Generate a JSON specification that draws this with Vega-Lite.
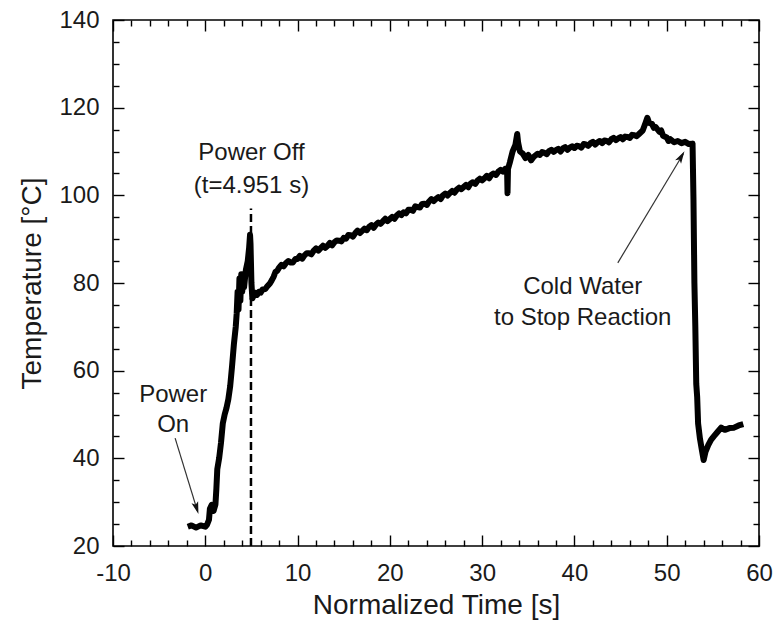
{
  "$schema": "https://vega.github.io/schema/vega-lite/v6.json",
  "width": 646,
  "height": 526,
  "autosize": "none",
  "padding": {"left": 113, "top": 20, "right": 15, "bottom": 78},
  "background": "white",
  "config": {
    "view": {"stroke": "black", "strokeWidth": 1.6},
    "font": "Liberation Sans",
    "axis": {
      "grid": false,
      "domain": false,
      "tickColor": "black",
      "tickWidth": 1.4,
      "labelFont": "Liberation Sans",
      "labelFontSize": 24,
      "labelColor": "#1a1a1a",
      "titleFont": "Liberation Sans",
      "titleFontSize": 28,
      "titleFontWeight": "normal",
      "titleColor": "#1a1a1a"
    }
  },
  "datasets": {
    "curve": [
      {"t": -1.9, "T": 24.4}, {"t": -1.5, "T": 24.7}, {"t": -1.0, "T": 24.2}, {"t": -0.5, "T": 24.7},
      {"t": 0.0, "T": 24.4}, {"t": 0.2, "T": 24.9}, {"t": 0.4, "T": 26}, {"t": 0.5, "T": 28.5},
      {"t": 0.7, "T": 29.4}, {"t": 0.9, "T": 28.0}, {"t": 1.1, "T": 29.5}, {"t": 1.2, "T": 33},
      {"t": 1.3, "T": 37.5}, {"t": 1.5, "T": 40}, {"t": 1.7, "T": 43.5}, {"t": 1.9, "T": 48},
      {"t": 2.1, "T": 50}, {"t": 2.3, "T": 51.5}, {"t": 2.5, "T": 53.5}, {"t": 2.7, "T": 56.5},
      {"t": 2.9, "T": 61}, {"t": 3.1, "T": 66}, {"t": 3.3, "T": 70}, {"t": 3.4, "T": 73},
      {"t": 3.5, "T": 78}, {"t": 3.6, "T": 74}, {"t": 3.7, "T": 81}, {"t": 3.8, "T": 76},
      {"t": 3.9, "T": 82}, {"t": 4.0, "T": 78}, {"t": 4.1, "T": 81}, {"t": 4.2, "T": 79},
      {"t": 4.4, "T": 83}, {"t": 4.6, "T": 85}, {"t": 4.75, "T": 88}, {"t": 4.85, "T": 91},
      {"t": 4.9, "T": 89}, {"t": 5.0, "T": 80}, {"t": 5.1, "T": 76.5}, {"t": 5.4, "T": 77.8},
      {"t": 5.6, "T": 77.3}, {"t": 5.8, "T": 78.0}, {"t": 6.0, "T": 77.8}, {"t": 6.2, "T": 78.5},
      {"t": 6.5, "T": 78.6}, {"t": 6.7, "T": 79.2}, {"t": 7.0, "T": 79.9}, {"t": 7.2, "T": 80.6},
      {"t": 7.4, "T": 81.4}, {"t": 7.6, "T": 82.5}, {"t": 7.8, "T": 82.8},
      {"t": 8.0, "T": 83.5}, {"t": 8.25, "T": 84.15}, {"t": 8.5, "T": 83.8}, {"t": 8.75, "T": 84.55},
      {"t": 9.0, "T": 85.0}, {"t": 9.25, "T": 84.65}, {"t": 9.5, "T": 84.7}, {"t": 9.75, "T": 85.45},
      {"t": 10, "T": 85.5}, {"t": 10.25, "T": 86.2}, {"t": 10.5, "T": 85.55}, {"t": 10.75, "T": 86.3},
      {"t": 11, "T": 86.8}, {"t": 11.25, "T": 86.8}, {"t": 11.5, "T": 86.55}, {"t": 11.75, "T": 87.4},
      {"t": 12, "T": 87.9}, {"t": 12.25, "T": 87.4}, {"t": 12.5, "T": 87.95}, {"t": 12.75, "T": 88.5},
      {"t": 13, "T": 88.0}, {"t": 13.25, "T": 88.5}, {"t": 13.5, "T": 89.15}, {"t": 13.75, "T": 88.6},
      {"t": 14, "T": 89.3}, {"t": 14.25, "T": 89.7}, {"t": 14.5, "T": 89.65}, {"t": 14.75, "T": 89.5},
      {"t": 15, "T": 90.3}, {"t": 15.25, "T": 90.1}, {"t": 15.5, "T": 90.95}, {"t": 15.75, "T": 90.9},
      {"t": 16, "T": 90.6}, {"t": 16.25, "T": 91.4}, {"t": 16.5, "T": 91.95}, {"t": 16.75, "T": 91.4},
      {"t": 17, "T": 91.9}, {"t": 17.25, "T": 92.4}, {"t": 17.5, "T": 92.05}, {"t": 17.75, "T": 92.8},
      {"t": 18, "T": 93.2}, {"t": 18.25, "T": 92.6}, {"t": 18.5, "T": 93.35}, {"t": 18.75, "T": 93.8},
      {"t": 19, "T": 93.5}, {"t": 19.25, "T": 94.1}, {"t": 19.5, "T": 94.65}, {"t": 19.75, "T": 94.1},
      {"t": 20, "T": 94.6}, {"t": 20.25, "T": 95.1}, {"t": 20.5, "T": 94.65}, {"t": 20.75, "T": 95.4},
      {"t": 21, "T": 95.9}, {"t": 21.25, "T": 95.5}, {"t": 21.5, "T": 96.15}, {"t": 21.75, "T": 95.9},
      {"t": 22, "T": 96.7}, {"t": 22.25, "T": 96.7}, {"t": 22.5, "T": 96.45}, {"t": 22.75, "T": 97.5},
      {"t": 23, "T": 97.3}, {"t": 23.25, "T": 97.2}, {"t": 23.5, "T": 98.05}, {"t": 23.75, "T": 98.1},
      {"t": 24, "T": 97.8}, {"t": 24.25, "T": 98.6}, {"t": 24.5, "T": 99.15}, {"t": 24.75, "T": 98.7},
      {"t": 25, "T": 99.2}, {"t": 25.25, "T": 99.6}, {"t": 25.5, "T": 99.15}, {"t": 25.75, "T": 100.0},
      {"t": 26, "T": 100.4}, {"t": 26.25, "T": 99.95}, {"t": 26.5, "T": 100.55}, {"t": 26.75, "T": 101.0},
      {"t": 27, "T": 100.6}, {"t": 27.25, "T": 101.3}, {"t": 27.5, "T": 101.75}, {"t": 27.75, "T": 101.4},
      {"t": 28, "T": 101.9}, {"t": 28.25, "T": 102.4}, {"t": 28.5, "T": 101.85}, {"t": 28.75, "T": 102.7},
      {"t": 29, "T": 103.0}, {"t": 29.25, "T": 102.6}, {"t": 29.5, "T": 103.35}, {"t": 29.75, "T": 103.8},
      {"t": 30, "T": 103.4}, {"t": 30.25, "T": 103.9}, {"t": 30.5, "T": 104.45}, {"t": 30.75, "T": 103.9},
      {"t": 31, "T": 104.7}, {"t": 31.25, "T": 105.0}, {"t": 31.5, "T": 104.65}, {"t": 31.75, "T": 105.4},
      {"t": 32, "T": 105.8}, {"t": 32.25, "T": 105.4}, {"t": 32.5, "T": 106.05}, {"t": 32.7, "T": 106},
      {"t": 32.75, "T": 100.5}, {"t": 32.8, "T": 106}, {"t": 33.0, "T": 107.5}, {"t": 33.3, "T": 110},
      {"t": 33.6, "T": 111.5}, {"t": 33.8, "T": 114}, {"t": 33.9, "T": 112}, {"t": 34.1, "T": 110},
      {"t": 34.4, "T": 109.5}, {"t": 34.7, "T": 108.5}, {"t": 35, "T": 109.2}, {"t": 35.3, "T": 108},
      {"t": 35.6, "T": 108.8},
      {"t": 36, "T": 109.5}, {"t": 36.25, "T": 109.2}, {"t": 36.5, "T": 109.9}, {"t": 36.75, "T": 109.7},
      {"t": 37, "T": 109.4}, {"t": 37.25, "T": 110.1}, {"t": 37.5, "T": 110.4}, {"t": 37.75, "T": 109.9},
      {"t": 38, "T": 110.3}, {"t": 38.25, "T": 110.6}, {"t": 38.5, "T": 110.0}, {"t": 38.75, "T": 110.7},
      {"t": 39, "T": 111.0}, {"t": 39.25, "T": 110.4}, {"t": 39.5, "T": 110.9}, {"t": 39.75, "T": 111.2},
      {"t": 40, "T": 110.8}, {"t": 40.25, "T": 111.3}, {"t": 40.5, "T": 111.2}, {"t": 40.75, "T": 110.9},
      {"t": 41, "T": 111.7}, {"t": 41.25, "T": 111.6}, {"t": 41.5, "T": 111.3}, {"t": 41.75, "T": 111.9},
      {"t": 42, "T": 112.2}, {"t": 42.25, "T": 111.6}, {"t": 42.5, "T": 112.1}, {"t": 42.75, "T": 112.4},
      {"t": 43, "T": 111.9}, {"t": 43.25, "T": 112.5}, {"t": 43.5, "T": 112.4}, {"t": 43.75, "T": 112.1},
      {"t": 44, "T": 112.8}, {"t": 44.25, "T": 113.1}, {"t": 44.5, "T": 112.6}, {"t": 44.75, "T": 113.0},
      {"t": 45, "T": 113.3}, {"t": 45.25, "T": 112.8}, {"t": 45.5, "T": 113.4}, {"t": 45.75, "T": 113.3},
      {"t": 46, "T": 113.1}, {"t": 46.25, "T": 113.8}, {"t": 46.5, "T": 113.7}, {"t": 46.75, "T": 113.5},
      {"t": 47, "T": 114.0}, {"t": 47.4, "T": 114.8}, {"t": 47.7, "T": 116.5}, {"t": 47.9, "T": 117.7},
      {"t": 48.1, "T": 116.5}, {"t": 48.4, "T": 116.3}, {"t": 48.6, "T": 115.4}, {"t": 48.8, "T": 115.6},
      {"t": 49.2, "T": 114.5}, {"t": 49.4, "T": 114.8}, {"t": 49.6, "T": 113.6}, {"t": 50, "T": 113.2},
      {"t": 50.2, "T": 112.4}, {"t": 50.4, "T": 112.8}, {"t": 50.8, "T": 112.1}, {"t": 51.2, "T": 112.4},
      {"t": 51.6, "T": 111.9}, {"t": 52, "T": 112.2}, {"t": 52.4, "T": 111.7}, {"t": 52.8, "T": 111.8},
      {"t": 52.9, "T": 99}, {"t": 53.0, "T": 80}, {"t": 53.1, "T": 70}, {"t": 53.2, "T": 57},
      {"t": 53.3, "T": 54}, {"t": 53.4, "T": 48}, {"t": 53.6, "T": 44.5}, {"t": 53.8, "T": 42},
      {"t": 54.0, "T": 39.6}, {"t": 54.2, "T": 41.5}, {"t": 54.5, "T": 43}, {"t": 54.8, "T": 44.2},
      {"t": 55.1, "T": 45}, {"t": 55.5, "T": 46}, {"t": 55.9, "T": 47}, {"t": 56.3, "T": 46.5},
      {"t": 56.8, "T": 46.9}, {"t": 57.3, "T": 47}, {"t": 57.8, "T": 47.5}, {"t": 58.3, "T": 47.8}
    ],
    "poweroff": [{"t": 4.951, "T1": 20, "T2": 97}],
    "arrows": [
      {"id": "on", "t": -3.27, "T": 44.6},
      {"id": "on", "t": -0.85, "T": 28.0},
      {"id": "cold", "t": 44.7, "T": 84.6},
      {"id": "cold", "t": 51.8, "T": 109.5}
    ],
    "notes": [
      {"t": -3.48, "T": 54.4, "label": "Power"},
      {"t": -3.48, "T": 47.6, "label": "On"},
      {"t": 5.0, "T": 109.7, "label": "Power Off"},
      {"t": 5.0, "T": 102.1, "label": "(t=4.951 s)"},
      {"t": 40.9, "T": 79.1, "label": "Cold Water"},
      {"t": 40.9, "T": 72.0, "label": "to Stop Reaction"}
    ]
  },
  "layer": [
    {
      "data": {"name": "curve"},
      "mark": {"type": "line", "color": "black", "strokeWidth": 6, "strokeJoin": "round"},
      "encoding": {
        "x": {
          "field": "t", "type": "quantitative",
          "scale": {"domain": [-10, 60], "nice": false, "zero": false},
          "axis": {
            "orient": "bottom",
            "title": "Normalized Time [s]",
            "values": [-10,-8,-6,-4,-2,0,2,4,6,8,10,12,14,16,18,20,22,24,26,28,30,32,34,36,38,40,42,44,46,48,50,52,54,56,58,60],
            "labelExpr": "datum.value % 10 === 0 ? '' + datum.value : ''",
            "tickSize": {"condition": {"test": "datum.value % 10 === 0", "value": -11}, "value": -6},
            "labelPadding": 26,
            "labelFlush": false,
            "labelOverlap": false,
            "titlePadding": 1
          }
        },
        "y": {
          "field": "T", "type": "quantitative",
          "scale": {"domain": [20, 140], "nice": false, "zero": false},
          "axis": {
            "orient": "left",
            "title": "Temperature [°C]",
            "values": [20,25,30,35,40,45,50,55,60,65,70,75,80,85,90,95,100,105,110,115,120,125,130,135,140],
            "labelExpr": "datum.value % 20 === 0 ? '' + datum.value : ''",
            "tickSize": {"condition": {"test": "datum.value % 20 === 0", "value": -11}, "value": -6},
            "labelPadding": 25,
            "labelFlush": false,
            "labelOverlap": false,
            "titlePadding": 12
          }
        }
      }
    },
    {
      "data": {"name": "poweroff"},
      "mark": {"type": "rule", "color": "black", "strokeWidth": 2.5, "strokeDash": [8, 4]},
      "encoding": {
        "x": {
          "field": "t", "type": "quantitative",
          "axis": {
            "orient": "top", "title": null, "labels": false,
            "values": [-10,-8,-6,-4,-2,0,2,4,6,8,10,12,14,16,18,20,22,24,26,28,30,32,34,36,38,40,42,44,46,48,50,52,54,56,58,60],
            "tickSize": {"condition": {"test": "datum.value % 10 === 0", "value": -11}, "value": -6}
          }
        },
        "y": {
          "field": "T1", "type": "quantitative",
          "axis": {
            "orient": "right", "title": null, "labels": false,
            "values": [20,25,30,35,40,45,50,55,60,65,70,75,80,85,90,95,100,105,110,115,120,125,130,135,140],
            "tickSize": {"condition": {"test": "datum.value % 20 === 0", "value": -11}, "value": -6}
          }
        },
        "y2": {"field": "T2"}
      }
    },
    {
      "data": {"name": "arrows"},
      "mark": {"type": "line", "color": "#333", "strokeWidth": 1.2},
      "encoding": {
        "x": {"field": "t", "type": "quantitative", "axis": null},
        "y": {"field": "T", "type": "quantitative", "axis": null},
        "detail": {"field": "id"}
      }
    },
    {
      "data": {"values": [{"t": -0.96, "T": 28.8}]},
      "mark": {"type": "point", "shape": "M0,-1L0.5,0.8L0,0.4L-0.5,0.8Z", "filled": true, "color": "#111", "size": 190, "angle": 163, "opacity": 1},
      "encoding": {
        "x": {"field": "t", "type": "quantitative", "axis": null},
        "y": {"field": "T", "type": "quantitative", "axis": null}
      }
    },
    {
      "data": {"values": [{"t": 51.54, "T": 108.7}]},
      "mark": {"type": "point", "shape": "M0,-1L0.5,0.8L0,0.4L-0.5,0.8Z", "filled": true, "color": "#111", "size": 190, "angle": 31, "opacity": 1},
      "encoding": {
        "x": {"field": "t", "type": "quantitative", "axis": null},
        "y": {"field": "T", "type": "quantitative", "axis": null}
      }
    },
    {
      "data": {"name": "notes"},
      "mark": {"type": "text", "font": "Liberation Sans", "fontSize": 24, "color": "#1a1a1a", "align": "center", "baseline": "middle"},
      "encoding": {
        "x": {"field": "t", "type": "quantitative", "axis": null},
        "y": {"field": "T", "type": "quantitative", "axis": null},
        "text": {"field": "label"}
      }
    }
  ],
  "resolve": {"axis": {"x": "independent", "y": "independent"}}
}
